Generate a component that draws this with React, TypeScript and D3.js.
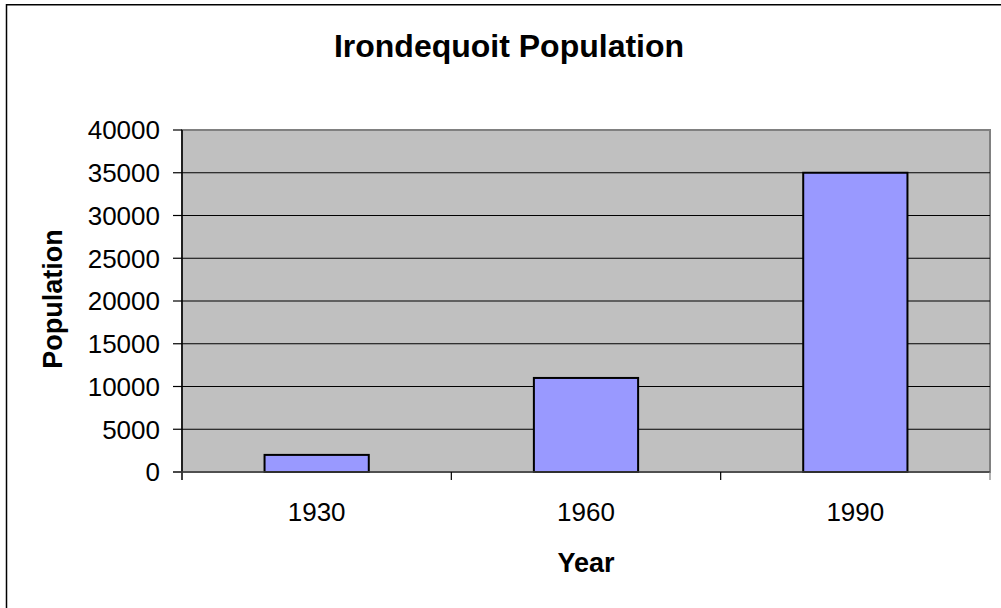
import React from "react"
import * as d3 from "d3"

const years = ["1930", "1960", "1990"]
const population = [2000, 11000, 35000]
const yTicks = [0, 5000, 10000, 15000, 20000, 25000, 30000, 35000, 40000]

const W = 1001
const H = 608
const plot = { left: 182, right: 990, top: 130, bottom: 472 }
const font = "'Liberation Sans', Arial, sans-serif"

export default function App() {
  const x = d3
    .scaleBand()
    .domain(years)
    .range([plot.left, plot.right])
    .paddingInner(0)
  const y = d3
    .scaleLinear()
    .domain([0, 40000])
    .range([plot.bottom, plot.top])

  const barW = x.bandwidth() * 0.387
  const catEdges = years.map((d) => x(d) as number).concat([plot.right])

  return (
    <div style={{ position: "absolute", left: 0, top: 0 }}>
      <svg width={W} height={H} style={{ display: "block" }}>
        <rect x={0} y={0} width={W} height={H} fill="#fff" />
        <rect
          x={6.5}
          y={4.75}
          width={W + 20}
          height={H + 20}
          fill="none"
          stroke="#000"
          strokeWidth={1.5}
        />
        <text
          x={509}
          y={57}
          textAnchor="middle"
          fontFamily={font}
          fontWeight="bold"
          fontSize={32}
        >
          Irondequoit Population
        </text>

        <rect
          x={plot.left}
          y={plot.top}
          width={plot.right - plot.left}
          height={plot.bottom - plot.top}
          fill="#c0c0c0"
          stroke="#808080"
          strokeWidth={2}
        />

        {yTicks.map((t) => (
          <g key={t}>
            {t > 0 && t < 40000 && (
              <line
                x1={plot.left}
                x2={plot.right}
                y1={y(t)}
                y2={y(t)}
                stroke="#000"
                strokeWidth={1}
              />
            )}
            <line x1={173} x2={plot.left} y1={y(t)} y2={y(t)} stroke="#000" strokeWidth={1.2} />
            <text
              x={160}
              y={y(t)}
              dy="0.36em"
              textAnchor="end"
              fontFamily={font}
              fontSize={26}
            >
              {t}
            </text>
          </g>
        ))}

        {years.map((d, i) => {
          const cx = (x(d) as number) + x.bandwidth() / 2
          return (
            <g key={d}>
              <rect
                x={cx - barW / 2}
                y={y(population[i])}
                width={barW}
                height={plot.bottom - y(population[i])}
                fill="#9999ff"
                stroke="#000"
                strokeWidth={2}
              />
              <text
                x={cx}
                y={521}
                textAnchor="middle"
                fontFamily={font}
                fontSize={26}
              >
                {d}
              </text>
            </g>
          )
        })}

        <line
          x1={plot.left}
          x2={plot.left}
          y1={plot.top}
          y2={plot.bottom + 8}
          stroke="#000"
          strokeWidth={1.5}
        />
        <line
          x1={173}
          x2={plot.right}
          y1={plot.bottom}
          y2={plot.bottom}
          stroke="#404040"
          strokeWidth={1.5}
        />
        {catEdges.slice(1).map((e, i) => (
          <line
            key={i}
            x1={e}
            x2={e}
            y1={plot.bottom}
            y2={plot.bottom + 8}
            stroke={i === catEdges.length - 2 ? "#808080" : "#000"}
            strokeWidth={1.2}
          />
        ))}

        <text
          x={(plot.left + plot.right) / 2}
          y={571.5}
          textAnchor="middle"
          fontFamily={font}
          fontWeight="bold"
          fontSize={27}
        >
          Year
        </text>
        <text
          transform={`translate(61.5, 299) rotate(-90)`}
          textAnchor="middle"
          fontFamily={font}
          fontWeight="bold"
          fontSize={27}
        >
          Population
        </text>
      </svg>
    </div>
  )
}
